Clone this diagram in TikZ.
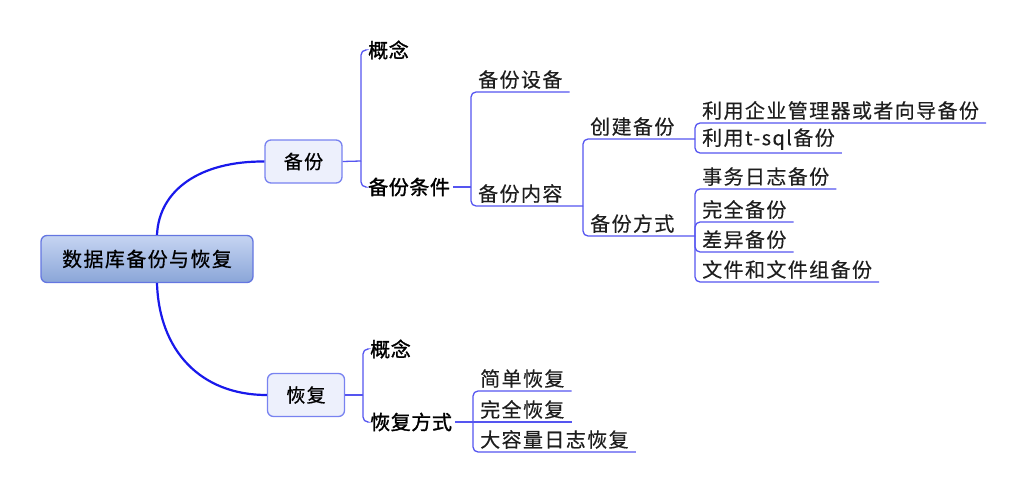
\documentclass[tikz,border=0pt]{standalone}
\usepackage{fontspec}
\newfontfamily\cjkleaf[LetterSpace=7,FakeBold=0.3]{Noto Sans CJK SC}
\newfontfamily\cjkmid[LetterSpace=3,FakeBold=1.4]{Noto Sans CJK SC}
\newfontfamily\cjkroot[LetterSpace=7,FakeBold=0.6]{Noto Sans CJK SC}

\definecolor{curveblue}{RGB}{25,25,235}
\definecolor{linkblue}{RGB}{85,85,240}
\definecolor{boxline}{RGB}{120,130,240}
\definecolor{boxfill}{RGB}{237,240,252}
\definecolor{roottop}{RGB}{198,212,242}
\definecolor{rootbot}{RGB}{138,166,216}
\definecolor{rootline}{RGB}{100,118,225}
\definecolor{leaftext}{RGB}{30,30,30}

\tikzset{
  rootbox/.style={draw=rootline, line width=1.3pt, rounded corners=6pt,
    top color=roottop, bottom color=rootbot, minimum width=212pt,
    minimum height=47pt, inner sep=0pt,
    font=\cjkroot\fontsize{20pt}{24pt}\selectfont},
  subbox/.style={draw=boxline, line width=1.3pt, fill=boxfill,
    rounded corners=6pt, minimum width=77pt, minimum height=43pt,
    font=\cjkroot\fontsize{19pt}{22pt}\selectfont},
  midtext/.style={anchor=west, inner sep=3pt,
    font=\cjkmid\fontsize{20pt}{24pt}\selectfont},
  leaf/.style={anchor=south west, inner xsep=7pt, inner ysep=3pt,
    text=leaftext, font=\cjkleaf\fontsize{20pt}{24pt}\selectfont},
  mainline/.style={draw=curveblue, line width=2.2pt},
  branchline/.style={draw=linkblue, line width=1.3pt, rounded corners=5pt},
}

\begin{document}
\begin{tikzpicture}[x=1pt,y=-1pt]
  \useasboundingbox (0,0) rectangle (1024,492);

  \draw (147,259) node[rootbox] (db) {数据库备份与恢复};
  \draw (303.5,161.5) node[subbox] (bf) {备份};
  \draw (306,395) node[subbox] (hf) {恢复};

  \draw[mainline] ([xshift=10pt]db.north) .. controls (159,190) and (200,161) .. (bf.west);
  \draw[mainline] ([xshift=10pt]db.south) .. controls (159,350) and (200,395) .. (hf.west);

  % backup side
  \coordinate (bfj) at (361,161);
  \draw (365,50) node[midtext] (gn1) {概念};
  \draw (365,187) node[midtext] (tj) {备份条件};
  \draw[branchline] (bf.east) -- (bfj);
  \draw[branchline] (bfj) |- (gn1.west);
  \draw[branchline] (bfj) |- (tj.west);

  \coordinate (tjj) at (471,187);
  \coordinate (nrj) at (583,206);
  \draw (471,92) node[leaf] (sb) {备份设备};
  \draw (471,206) node[leaf] (nr) {备份内容};
  \draw[branchline] (tj.east) -- (tjj);
  \draw[branchline] (tjj) |- (sb.south east);
  \draw[branchline] (tjj) |- (nrj);

  \coordinate (cjj) at (695,139);
  \coordinate (fsj) at (695,236);
  \draw (583,139) node[leaf] (cj) {创建备份};
  \draw (583,236) node[leaf] (fs) {备份方式};
  \draw[branchline] (nrj) |- (cjj);
  \draw[branchline] (nrj) |- (fsj);

  \draw (695,123) node[leaf] (ly1) {利用企业管理器或者向导备份};
  \draw (695,153) node[leaf] (ly2) {利用t-sql备份};
  \draw[branchline] (cjj) |- (ly1.south east);
  \draw[branchline] (cjj) |- (ly2.south east);

  \draw (695,189) node[leaf] (sw) {事务日志备份};
  \draw (695,222) node[leaf] (qb) {完全备份};
  \draw (695,252) node[leaf] (cy) {差异备份};
  \draw (695,282) node[leaf] (wj) {文件和文件组备份};
  \draw[branchline] (fsj) |- (sw.south east);
  \draw[branchline] (fsj) |- (qb.south east);
  \draw[branchline] (fsj) |- (cy.south east);
  \draw[branchline] (fsj) |- (wj.south east);

  % restore side
  \coordinate (hfj) at (363,395);
  \draw (367,349) node[midtext] (gn2) {概念};
  \draw (367,422) node[midtext] (hs) {恢复方式};
  \draw[branchline] (hf.east) -- (hfj);
  \draw[branchline] (hfj) |- (gn2.west);
  \draw[branchline] (hfj) |- (hs.west);

  \coordinate (hsj) at (473,422);
  \draw (473,391) node[leaf] (jd) {简单恢复};
  \draw (473,422) node[leaf] (wq) {完全恢复};
  \draw (473,452) node[leaf] (dr) {大容量日志恢复};
  \draw[branchline] (hs.east) -- (hsj);
  \draw[branchline] (hsj) |- (jd.south east);
  \draw[branchline] (hsj) -- (wq.south east);
  \draw[branchline] (hsj) |- (dr.south east);
\end{tikzpicture}
\end{document}
